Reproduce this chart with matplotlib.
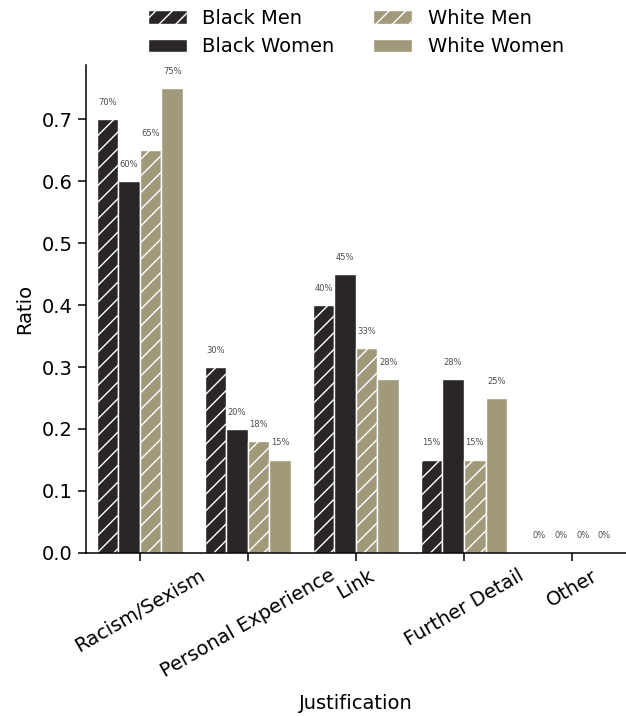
import numpy as np
import matplotlib.pyplot as plt

# Share of each justification type, split by respondent group
categories = ["Racism/Sexism", "Personal Experience", "Link", "Further Detail", "Other"]
groups = ["Black Men", "Black Women", "White Men", "White Women"]
black_men = [0.70, 0.30, 0.40, 0.15, 0.0]
black_women = [0.60, 0.20, 0.45, 0.28, 0.0]
white_men = [0.65, 0.18, 0.33, 0.15, 0.0]
white_women = [0.75, 0.15, 0.28, 0.25, 0.0]

DARK = "#2a2627"
KHAKI = "#a09a7a"
colors = [DARK, DARK, KHAKI, KHAKI]
hatches = ["//", "", "//", ""]
series = [black_men, black_women, white_men, white_women]

fig = plt.figure(figsize=(6.26, 7.16), dpi=100)
ax = fig.add_axes([0.137, 0.228, 0.863, 0.681])

x = np.arange(len(categories))
width = 0.2
for i, (name, vals) in enumerate(zip(groups, series)):
    pos = x - 0.3 + i * width
    ax.bar(pos, vals, width, color=colors[i], hatch=hatches[i],
           edgecolor="white", linewidth=1.0, label=name)
    for px, v in zip(pos, vals):
        ax.text(px, v + 0.02, f"{v:.0%}", ha="center", va="bottom",
                fontsize=6, color="#4d4d4d")

ax.set_xlim(-0.5, len(categories) - 0.5)
ax.set_ylim(0, 0.7875)
ax.set_xticks(x)
ax.set_xticklabels(categories, rotation=30, ha="center")
ax.set_yticks(np.arange(0, 0.71, 0.1))
ax.tick_params(labelsize=14, length=6, width=1.1)
ax.set_xlabel("Justification", fontsize=14, labelpad=9)
ax.set_ylabel("Ratio", fontsize=14, labelpad=5)
for side in ("top", "right"):
    ax.spines[side].set_visible(False)
for side in ("left", "bottom"):
    ax.spines[side].set_linewidth(1.1)

ax.legend(loc="lower center", bbox_to_anchor=(0.5, 0.982), ncol=2,
          frameon=False, fontsize=14)

plt.savefig("out.png", dpi=100)
plt.close()
